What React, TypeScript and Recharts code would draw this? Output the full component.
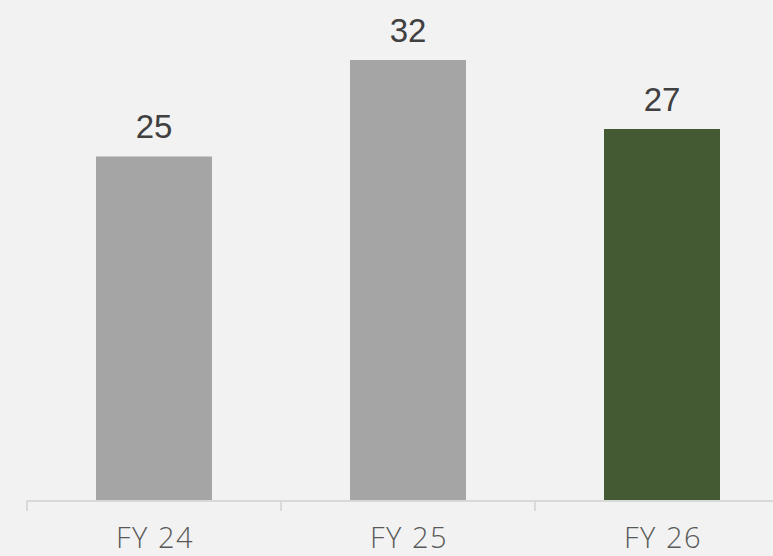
import { BarChart, Bar, XAxis, YAxis, Cell, LabelList } from "recharts";

const categories = ["FY 24", "FY 25", "FY 26"];
const values = [25, 32, 27];
const barColors = ["#a5a5a5", "#a5a5a5", "#435a32"];

const data = categories.map((name, i) => ({ name, value: values[i] }));

// tick label plus a short divider mark on the left edge of each category
const CategoryTick = (props: any) => {
  const { x, y, payload } = props;
  const half = payload && payload.offset ? payload.offset : 127;
  return (
    <g>
      <line x1={x - half} x2={x - half} y1={y} y2={y + 10} stroke="#d9d9d9" strokeWidth={2} />
      <text
        x={x + 1}
        y={y + 47}
        textAnchor="middle"
        fill="#595959"
        fontSize={29}
        fontFamily="Open Sans"
        fontWeight={300}
        letterSpacing={1.5}
      >
        {payload.value}
      </text>
    </g>
  );
};

const App = () => (
  <div
    style={{
      position: "absolute",
      left: 0,
      top: 0,
      width: 773,
      height: 556,
      overflow: "hidden",
      background: "#f2f2f2",
    }}
  >
    <BarChart
      width={789}
      height={556}
      data={data}
      margin={{ top: 60, right: 0, bottom: 0, left: 27 }}
      barSize={116}
    >
      <XAxis
        dataKey="name"
        height={55}
        axisLine={{ stroke: "#d9d9d9", strokeWidth: 2 }}
        tickLine={false}
        tickSize={0}
        tickMargin={0}
        tick={<CategoryTick />}
        interval={0}
      />
      <YAxis hide domain={[0, 32]} />
      <Bar dataKey="value" isAnimationActive={false}>
        {data.map((d, i) => (
          <Cell key={d.name} fill={barColors[i]} />
        ))}
        <LabelList
          dataKey="value"
          position="top"
          offset={18}
          style={{ fontSize: 33, fill: "#404040", fontFamily: "Arial, Liberation Sans" }}
        />
      </Bar>
    </BarChart>
  </div>
);

export default App;
